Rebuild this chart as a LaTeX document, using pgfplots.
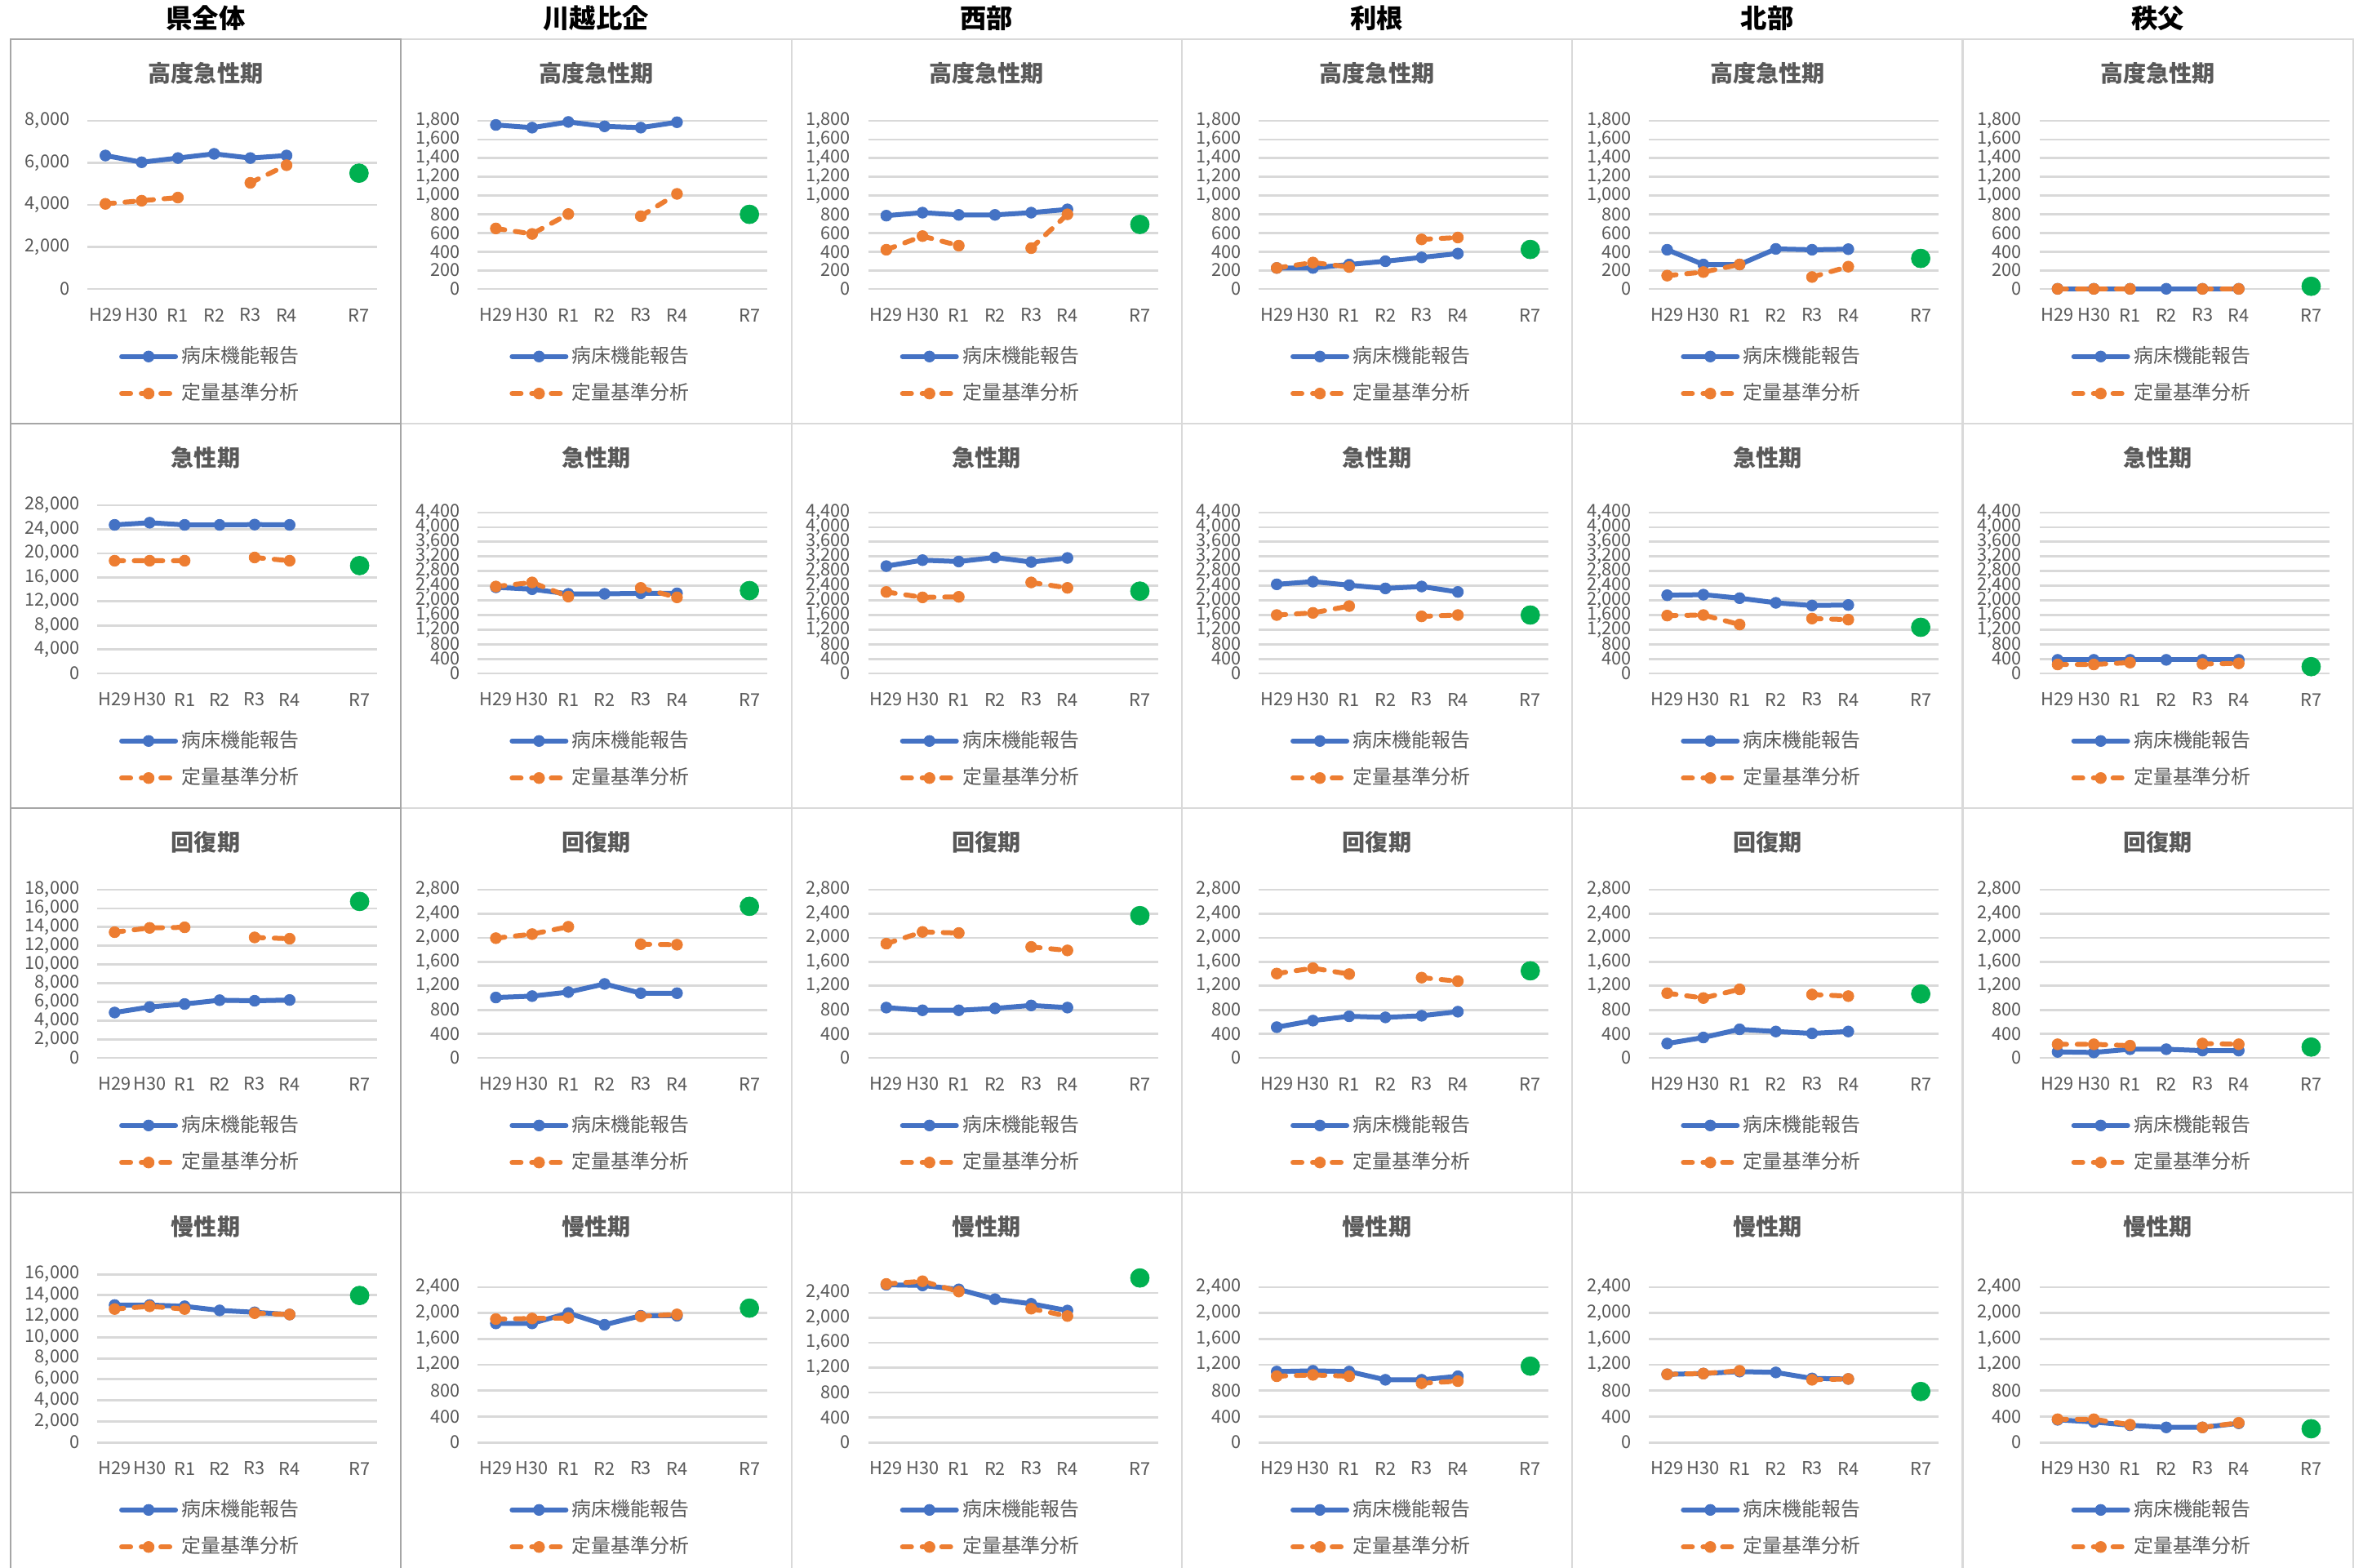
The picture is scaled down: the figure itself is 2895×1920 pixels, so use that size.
\documentclass[border=0pt]{standalone}
\usepackage{fontspec}
\setmainfont{Noto Sans CJK JP}
\usepackage{pgfplots}
\pgfplotsset{compat=1.18}
\definecolor{cblue}{HTML}{4472C4}
\definecolor{corange}{HTML}{ED7D31}
\definecolor{cgreen}{HTML}{00B050}
\definecolor{gridgray}{HTML}{D9D9D9}
\definecolor{labgray}{HTML}{595959}
\definecolor{lightborder}{HTML}{D9D9D9}
\definecolor{darkborder}{HTML}{A6A6A6}
\pgfplotsset{
  panel/.style={
    scale only axis, height=20.6mm,
    xmin=-0.5, xmax=7.5, ymin=0,
    xtick={0,1,2,3,4,5,7}, xticklabels={H29,H30,R1,R2,R3,R4,R7},
    axis line style={draw=none}, major tick length=0pt,
    ymajorgrids, grid style={color=gridgray, line width=0.8pt},
    tick label style={font=\fontsize{6.2}{7}\selectfont, text=labgray},
    yticklabel style={anchor=east, inner sep=0pt, xshift=-2.1mm},
    xticklabel style={anchor=center, inner sep=0pt, yshift=-3.2mm},
    scaled y ticks=false,
    /pgf/number format/fixed,
    /pgf/number format/1000 sep={,},
    /pgf/number format/assume math mode=true,
    unbounded coords=jump,
    clip=false,
    legend cell align=left,
    legend style={draw=none, fill=none, anchor=center, font=\fontsize{6.8}{8}\selectfont, text=labgray,
      row sep=2.0mm, inner sep=0pt, nodes={inner sep=0pt}},
    legend image code/.code={\draw[mark repeat=2,mark phase=2,##1] plot coordinates {(0mm,0mm) (3.3mm,0mm) (6.6mm,0mm)}; \path (7.05mm,0mm);},
  },
  blueline/.style={color=cblue, line width=0.6mm, line cap=round, line join=round, mark=*, mark size=0.68mm, mark options={solid, fill=cblue, line width=0.2pt}},
  orangeline/.style={color=corange, line width=0.6mm, dash pattern=on 1.1mm off 1.3mm, line cap=round, line join=round, mark=*, mark size=0.68mm, mark options={solid, fill=corange, line width=0.2pt}},
  greenpt/.style={only marks, mark=*, mark size=1.15mm, mark options={draw=cgreen, fill=cgreen, line width=0.2pt}},
}
\newcommand\panel[9]{%
  \pgfmathsetmacro\pxm{(13+478.3*#1+#9)*0.1}%
  \pgfmathsetmacro\pym{-(354+471*#2)*0.1}%
  \pgfmathsetmacro\pw{(449-#9)*0.1}%
  \pgfmathsetmacro\lx{(243-#9)/(449-#9)}%
  \pgfmathsetmacro\tx{(239-#9)/(449-#9)}%
  \begin{axis}[panel, at={(\pxm mm,\pym mm)}, anchor=south west, width=\pw mm,
      title={#3},
      title style={at={(\tx,1)}, anchor=center, yshift=3.68mm, font=\bfseries\fontsize{8}{9}\selectfont, text=labgray},
      ymax=#4, ytick={#5}, legend style={at={(\lx,-0.512)}}]
    \addplot[blueline] coordinates {#6};
    \addlegendentry{病床機能報告}
    \addplot[orangeline] coordinates {#7};
    \addlegendentry{定量基準分析}
    \addplot[greenpt, forget plot] coordinates {(7,#8)};
  \end{axis}}
\begin{document}
\begin{tikzpicture}[x=0.1mm, y=-0.1mm]
\useasboundingbox (0,0) rectangle (2895,1920);
\fill[white] (0,0) rectangle (2895,1920);
% panel borders
\foreach \c in {1,...,5}{\foreach \r in {0,...,3}{
  \draw[lightborder, line width=0.6pt] ({13+478.3*\c},{48+471*\r}) rectangle ++(478.3,471);}}
\foreach \r in {0,...,3}{
  \draw[darkborder, line width=0.6pt] (13,{48+471*\r}) rectangle ++(478.3,471);}
% column headers
\foreach \name [count=\i from 0] in {県全体,川越比企,西部,利根,北部,秩父}{
  \node[font=\bfseries\fontsize{9.2}{10}\selectfont, text=black] at ({13+478.3*\i+239},22) {\name};}
% ---------- row 0: 高度急性期
\panel{0}{0}{高度急性期}{8000}{0,2000,...,8000}
 {(0,6350)(1,6030)(2,6230)(3,6430)(4,6230)(5,6350)}
 {(0,4050)(1,4200)(2,4350)(3,nan)(4,5050)(5,5890)}{5510}{94}
\panel{1}{0}{高度急性期}{1800}{0,200,...,1800}
 {(0,1756)(1,1727)(2,1788)(3,1741)(4,1727)(5,1785)}
 {(0,648)(1,589)(2,802)(3,nan)(4,779)(5,1018)}{799}{94}
\panel{2}{0}{高度急性期}{1800}{0,200,...,1800}
 {(0,785)(1,817)(2,793)(3,793)(4,817)(5,852)}
 {(0,420)(1,566)(2,464)(3,nan)(4,437)(5,799)}{691}{94}
\panel{3}{0}{高度急性期}{1800}{0,200,...,1800}
 {(0,225)(1,225)(2,262)(3,297)(4,338)(5,379)}
 {(0,225)(1,283)(2,235)(3,nan)(4,531)(5,551)}{423}{94}
\panel{4}{0}{高度急性期}{1800}{0,200,...,1800}
 {(0,420)(1,262)(2,262)(3,429)(4,420)(5,426)}
 {(0,143)(1,181)(2,262)(3,nan)(4,128)(5,239)}{327}{94}
\panel{5}{0}{高度急性期}{1800}{0,200,...,1800}
 {(0,2)(1,2)(2,2)(3,2)(4,2)(5,2)}
 {(0,1)(1,1)(2,1)(3,nan)(4,1)(5,1)}{29}{94}
% ---------- row 1: 急性期
\panel{0}{1}{急性期}{28000}{0,4000,...,28000}
 {(0,24740)(1,25100)(2,24740)(3,24740)(4,24790)(5,24740)}
 {(0,18770)(1,18770)(2,18770)(3,nan)(4,19310)(5,18770)}{17960}{106}
\panel{1}{1}{急性期}{4600}{0,400,...,4400}
 {(0,2356)(1,2304)(2,2178)(3,2178)(4,2192)(5,2192)}
 {(0,2378)(1,2490)(2,2103)(3,nan)(4,2341)(5,2081)}{2267}{94}
\panel{2}{1}{急性期}{4600}{0,400,...,4400}
 {(0,2936)(1,3099)(2,3062)(3,3173)(4,3047)(5,3159)}
 {(0,2230)(1,2081)(2,2096)(3,nan)(4,2490)(5,2341)}{2252}{94}
\panel{3}{1}{急性期}{4600}{0,400,...,4400}
 {(0,2438)(1,2512)(2,2415)(3,2326)(4,2378)(5,2230)}
 {(0,1598)(1,1657)(2,1843)(3,nan)(4,1561)(5,1598)}{1598}{94}
\panel{4}{1}{急性期}{4600}{0,400,...,4400}
 {(0,2140)(1,2155)(2,2059)(3,1932)(4,1858)(5,1873)}
 {(0,1583)(1,1598)(2,1338)(3,nan)(4,1501)(5,1472)}{1263}{94}
\panel{5}{1}{急性期}{4600}{0,400,...,4400}
 {(0,372)(1,372)(2,372)(3,372)(4,372)(5,372)}
 {(0,245)(1,245)(2,297)(3,nan)(4,260)(5,275)}{186}{94}
% ---------- row 2: 回復期
\panel{0}{2}{回復期}{18000}{0,2000,...,18000}
 {(0,4860)(1,5450)(2,5770)(3,6180)(4,6120)(5,6200)}
 {(0,13460)(1,13920)(2,13980)(3,nan)(4,12900)(5,12760)}{16750}{106}
\panel{1}{2}{回復期}{2800}{0,400,...,2800}
 {(0,1006)(1,1029)(2,1096)(3,1232)(4,1078)(5,1078)}
 {(0,1994)(1,2062)(2,2184)(3,nan)(4,1894)(5,1885)}{2524}{94}
\panel{2}{2}{回復期}{2800}{0,400,...,2800}
 {(0,838)(1,793)(2,793)(3,825)(4,874)(5,838)}
 {(0,1903)(1,2098)(2,2080)(3,nan)(4,1849)(5,1790)}{2370}{94}
\panel{3}{2}{回復期}{2800}{0,400,...,2800}
 {(0,512)(1,621)(2,693)(3,675)(4,702)(5,770)}
 {(0,1405)(1,1495)(2,1396)(3,nan)(4,1337)(5,1278)}{1450}{94}
\panel{4}{2}{回復期}{2800}{0,400,...,2800}
 {(0,240)(1,340)(2,476)(3,440)(4,408)(5,440)}
 {(0,1078)(1,997)(2,1142)(3,nan)(4,1056)(5,1029)}{1065}{94}
\panel{5}{2}{回復期}{2800}{0,400,...,2800}
 {(0,100)(1,91)(2,145)(3,145)(4,122)(5,122)}
 {(0,227)(1,227)(2,204)(3,nan)(4,240)(5,227)}{181}{94}
% ---------- row 3: 慢性期
\panel{0}{3}{慢性期}{16000}{0,2000,...,16000}
 {(0,13070)(1,13070)(2,12950)(3,12560)(4,12380)(5,12170)}
 {(0,12690)(1,12950)(2,12690)(3,nan)(4,12300)(5,12170)}{13980}{106}
\panel{1}{3}{慢性期}{2600}{0,400,...,2400}
 {(0,1840)(1,1840)(2,2000)(3,1819)(4,1958)(5,1958)}
 {(0,1907)(1,1916)(2,1924)(3,nan)(4,1949)(5,1979)}{2076}{94}
\panel{2}{3}{慢性期}{2700}{0,400,...,2400}
 {(0,2531)(1,2520)(2,2457)(3,2300)(4,2226)(5,2117)}
 {(0,2544)(1,2588)(2,2422)(3,nan)(4,2147)(5,2029)}{2640}{94}
\panel{3}{3}{慢性期}{2600}{0,400,...,2400}
 {(0,1095)(1,1107)(2,1095)(3,968)(4,968)(5,1023)}
 {(0,1023)(1,1044)(2,1023)(3,nan)(4,914)(5,947)}{1179}{94}
\panel{4}{3}{慢性期}{2600}{0,400,...,2400}
 {(0,1053)(1,1065)(2,1095)(3,1082)(4,989)(5,981)}
 {(0,1053)(1,1065)(2,1107)(3,nan)(4,968)(5,981)}{787}{94}
\panel{5}{3}{慢性期}{2600}{0,400,...,2400}
 {(0,349)(1,316)(2,265)(3,232)(4,232)(5,295)}
 {(0,358)(1,358)(2,274)(3,nan)(4,232)(5,303)}{211}{94}
\end{tikzpicture}
\end{document}
